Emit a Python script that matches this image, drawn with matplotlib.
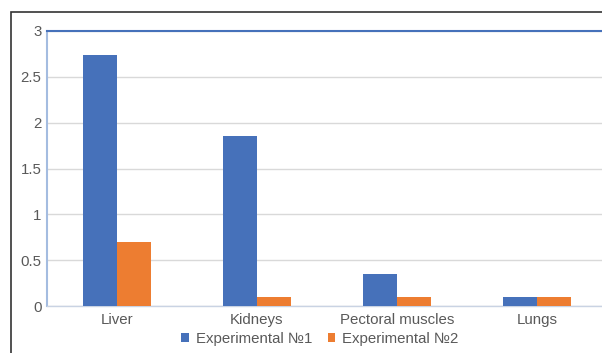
import numpy as np
import matplotlib.pyplot as plt
from matplotlib.patches import Rectangle

plt.rcParams['font.family'] = ['Liberation Sans', 'DejaVu Sans']

organs = ['Liver', 'Kidneys', 'Pectoral muscles', 'Lungs']
exp1 = [2.74, 1.85, 0.35, 0.1]
exp2 = [0.7, 0.1, 0.1, 0.1]
series_names = ['Experimental №1', 'Experimental №2']
yticks = [0, 0.5, 1, 1.5, 2, 2.5, 3]
yticklabels = ['0', '0.5', '1', '1.5', '2', '2.5', '3']

blue = '#4671BA'
orange = '#ED7D31'
text_gray = '#595959'

fig = plt.figure(figsize=(6.02, 3.53), dpi=100)
W, H = 602, 353

# axes box runs a little past the right edge of the figure
ax = fig.add_axes([47 / W, 1 - 306 / H, 560 / W, 275 / H])

x = np.arange(len(organs))
w = 0.24
ax.bar(x - w / 2, exp1, w, color=blue, label=series_names[0], zorder=3)
ax.bar(x + w / 2, exp2, w, color=orange, label=series_names[1], zorder=3)

ax.set_xlim(-0.5, len(organs) - 0.5)
ax.set_ylim(0, 3)
ax.set_yticks(yticks)
ax.set_yticklabels(yticklabels)
ax.set_xticks(x)
ax.set_xticklabels(organs)
ax.tick_params(axis='both', length=0, labelsize=10.8, labelcolor=text_gray)
ax.tick_params(axis='y', pad=4)
ax.tick_params(axis='x', pad=5)
ax.yaxis.grid(True, color='#D9D9D9', linewidth=1, zorder=0)

ax.spines['right'].set_visible(False)
ax.spines['top'].set_color(blue)
ax.spines['top'].set_linewidth(1.5)
ax.spines['left'].set_color('#A4BCE0')
ax.spines['left'].set_linewidth(1.5)
ax.spines['bottom'].set_color('#C9D3E3')
ax.spines['bottom'].set_linewidth(1)

fig.legend(loc='center', bbox_to_anchor=(320 / W, 1 - 339 / H), ncol=2,
           frameon=False, fontsize=10.8, labelcolor=text_gray,
           handlelength=0.5, handleheight=0.5, handletextpad=0.5,
           columnspacing=1.0)

# outer frame around the chart area
fig.patches.append(Rectangle((11 / W, -0.05), 1.1, 1 - 12 / H + 0.05,
                             transform=fig.transFigure, fill=False,
                             edgecolor='#333333', linewidth=1.2))

fig.savefig('out.png', dpi=100)
